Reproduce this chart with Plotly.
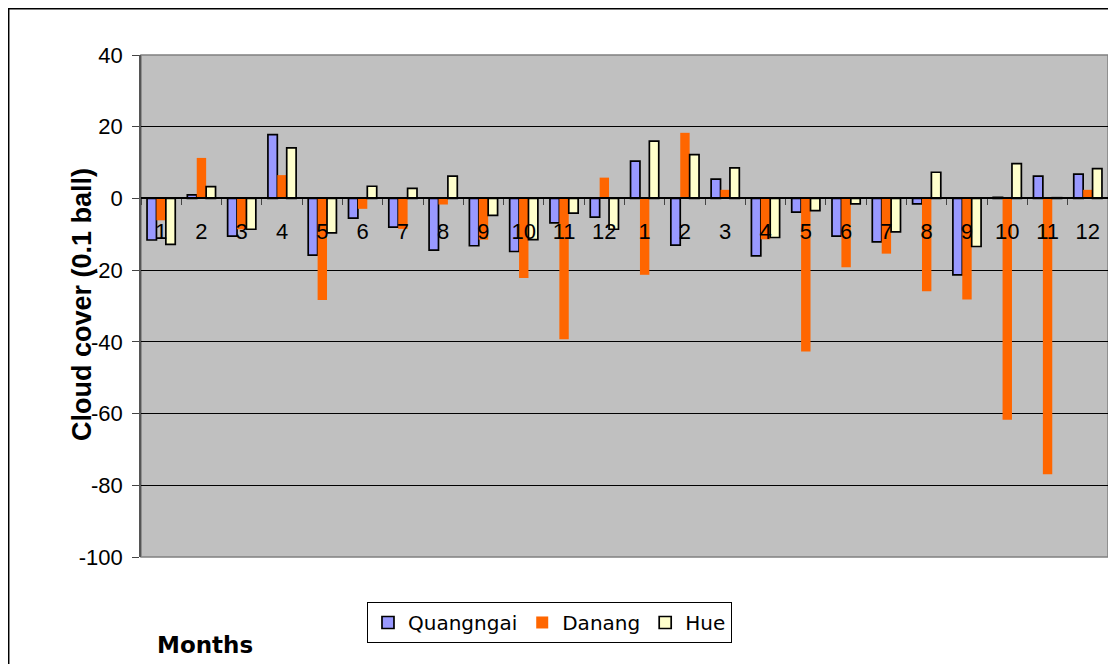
import plotly.graph_objects as go

# Mesi (due anni consecutivi)
months = [str(m) for m in range(1, 13)] * 2

# Anomalie di nuvolosità (0.1 ball)
quangngai = [-11.6, 1.0, -10.5, 17.8, -15.8, -5.5, -8.0, -14.4, -13.2, -14.8, -6.8, -5.2,
             10.4, -13.0, 5.4, -16.0, -3.8, -10.5, -12.1, -1.5, -21.3, 0.3, 6.2, 6.8]
danang = [-6.1, 11.3, -8.6, 6.5, -28.3, -2.9, -8.5, -1.7, -11.5, -22.2, -39.3, 5.8,
          -21.3, 18.3, 2.4, -11.4, -42.7, -19.2, -15.4, -25.9, -28.2, -61.7, -76.9, 2.4]
hue = [-12.8, 3.3, -8.6, 14.1, -9.6, 3.4, 2.8, 6.2, -4.7, -11.5, -4.1, -8.6,
       16.0, 12.2, 8.5, -10.9, -3.4, -1.5, -9.3, 7.3, -13.4, 9.7, 0.2, 8.3]

# Tacche asse y (con trattino semplice come nell'originale)
y_ticks = [40, 20, 0, -20, -40, -60, -80, -100]
y_labels = [str(v) for v in y_ticks]

x = list(range(len(months)))

fig = go.Figure()
fig.add_trace(go.Bar(x=x, y=quangngai, name='Quangngai',
                     marker=dict(color='#9999FF', line=dict(color='black', width=1.7))))
fig.add_trace(go.Bar(x=x, y=danang, name='Danang',
                     marker=dict(color='#FF6600', line=dict(color='#FF6600', width=0))))
fig.add_trace(go.Bar(x=x, y=hue, name='Hue',
                     marker=dict(color='#FFFFCC', line=dict(color='black', width=1.7))))

# La pagina ha un margine di 8px: dimensioni e margini compensati
fig.update_layout(
    width=1108, height=656,
    margin=dict(l=133, r=8, t=47, b=107),
    paper_bgcolor='white',
    plot_bgcolor='#C0C0C0',
    barmode='group',
    bargap=0.3,
    bargroupgap=0,
    font=dict(family='Liberation Sans, Arial', size=22, color='black'),
    showlegend=True,
    legend=dict(orientation='h', x=0.2337, y=-0.0896, xanchor='left', yanchor='top',
                bordercolor='black', borderwidth=1, bgcolor='white',
                font=dict(family='DejaVu Sans', size=20),
                traceorder='normal', itemwidth=30),
)

fig.update_xaxes(
    range=[-0.5, len(months) - 0.5],
    anchor='free', position=100 / 140,
    showline=True, linecolor='black', linewidth=1.5,
    showgrid=False, zeroline=False,
    tickmode='array', tickvals=x, ticktext=months,
    ticks='', ticklabelstandoff=13,
    tickfont=dict(size=22),
    minor=dict(tickvals=[i + 0.5 for i in x[:-1]] + [-0.5], ticks='outside',
               ticklen=6, tickcolor='#444', showgrid=False),
)
fig.update_yaxes(
    range=[-100, 40],
    tickmode='array', tickvals=y_ticks, ticktext=y_labels,
    showgrid=True, gridcolor='black', gridwidth=1,
    zeroline=False,
    showline=True, linecolor='#555', linewidth=1.5,
    ticks='outside', ticklen=7, tickcolor='#444',
    ticklabelstandoff=5,
    tickfont=dict(size=22),
)

# Bordo area grafico e cornice esterna
fig.add_shape(type='rect', xref='paper', yref='paper', x0=0, y0=0, x1=1, y1=1,
              line=dict(color='#808080', width=1.5), layer='below')
fig.add_shape(type='rect', xref='paper', yref='paper', x0=-0.1368, y0=-0.25, x1=1.01, y1=1.0921,
              line=dict(color='black', width=1.5))

fig.add_annotation(text='<b>Cloud cover (0.1 ball)</b>', textangle=-90,
                   xref='paper', yref='paper', x=-0.061, y=0.502,
                   xanchor='center', yanchor='middle',
                   showarrow=False, font=dict(size=27, family='Liberation Sans, Arial'))
fig.add_annotation(text='<b>Months</b>', xref='paper', yref='paper', x=0.066, y=-0.175,
                   xanchor='center', yanchor='middle',
                   showarrow=False, font=dict(size=23, family='DejaVu Sans'))

fig.write_html("out.html")
